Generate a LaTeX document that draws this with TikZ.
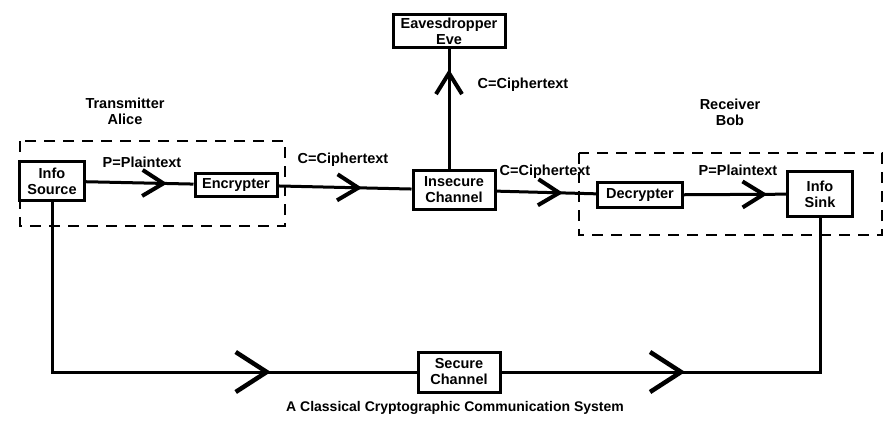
\documentclass[tikz,border=0pt]{standalone}
\usepackage{fontspec}
\setmainfont{Liberation Sans}
\usetikzlibrary{decorations.markings}

\tikzset{
  blk/.style={draw, line width=3pt, font=\bfseries\fontsize{14.5}{16}\selectfont,
    align=center, inner sep=2pt},
  lbl/.style={font=\bfseries\fontsize{14.5}{16}\selectfont, align=center},
  wire/.style={line width=3pt},
  grp/.style={draw, line width=2.6pt, dash pattern=on 11pt off 8pt},
  chev/.style={postaction=decorate, decoration={markings,
    mark=at position #1 with {\draw[line width=4pt] (-21pt,13pt) -- (0pt,0pt) -- (-21pt,-13pt);}}},
  bigchev/.style={postaction=decorate, decoration={markings,
    mark=at position #1 with {\draw[line width=4.5pt] (-31pt,20pt) -- (0pt,0pt) -- (-31pt,-20pt);}}}
}

\begin{document}
\begin{tikzpicture}[x=1pt, y=-1pt]
  \useasboundingbox (0,0) rectangle (888,422);
  % dashed groups
  \draw[grp] (20,141) rectangle (285,226);
  \draw[grp] (579,153) rectangle (882,235);
  \node[lbl] (alice) at (125,111) {Transmitter\\Alice};
  \node[lbl] (bob) at (730,112) {Receiver\\Bob};
  % blocks
  \node[blk, minimum width=65pt, minimum height=38pt] (src) at (52,181) {Info\\Source};
  \node[blk, minimum width=82pt, minimum height=23pt] (enc) at (236,185) {Encrypter};
  \node[blk, minimum width=82pt, minimum height=38pt] (ins) at (454,190) {Insecure\\Channel};
  \node[blk, minimum width=112pt, minimum height=33pt] (eve) at (449,31) {Eavesdropper\\Eve};
  \node[blk, minimum width=85pt, minimum height=24pt] (dec) at (640,195) {Decrypter};
  \node[blk, minimum width=65pt, minimum height=45pt] (sink) at (820,194) {Info\\Sink};
  \node[blk, minimum width=82pt, minimum height=40pt] (sec) at (459,372) {Secure\\Channel};
  % connectors
  \draw[wire, chev=0.72] (src) -- (enc);
  \draw[wire, chev=0.6] (enc) -- (ins);
  \draw[wire, chev=0.8] (ins.north -| eve.south) -- (eve.south);
  \draw[wire, chev=0.63] (ins) -- (dec);
  \draw[wire, chev=0.78] (dec) -- (sink);
  \draw[wire, bigchev=0.72] (src.south) |- (sec.west);
  \draw[wire, bigchev=0.38] (sec.east) -| (sink.south);
  % labels
  \node[lbl] (pt1) at (142,162) {P=Plaintext};
  \node[lbl] (ct1) at (343,160) {C=Ciphertext};
  \node[lbl] (ct2) at (523,85) {C=Ciphertext};
  \node[lbl] (ct3) at (545,172) {C=Ciphertext};
  \node[lbl] (pt2) at (738,170) {P=Plaintext};
  \node[lbl, font=\bfseries\fontsize{14}{16}\selectfont] (cap) at (455,408)
    {A Classical Cryptographic Communication System};
\end{tikzpicture}
\end{document}
